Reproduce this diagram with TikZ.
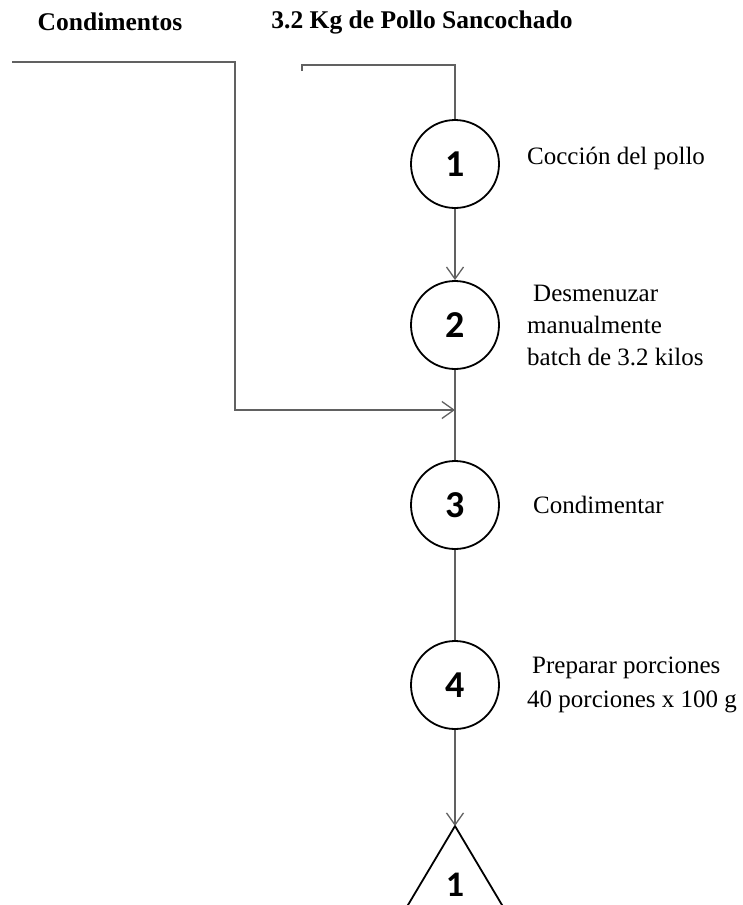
\documentclass[tikz,border=0pt]{standalone}
\usepackage{fontspec}
\setmainfont{Liberation Serif}
\newfontfamily\numfont{Carlito}
\usetikzlibrary{arrows.meta}

\begin{document}
\begin{tikzpicture}[x=1pt,y=-1pt,
  opcircle/.style={circle,draw=black,line width=1.8pt,minimum size=88pt,inner sep=0pt,
    font=\numfont\bfseries\fontsize{38}{40}\selectfont},
  flow/.style={draw=black!62,line width=1.3pt},
  barb/.style={-{Straight Barb[length=12pt,width=17pt,line width=1.3pt]}},
  lbl/.style={anchor=west,font=\fontsize{25}{32}\selectfont,align=left,inner sep=0pt},
  head/.style={font=\bfseries\fontsize{25.5}{30}\selectfont,inner sep=0pt}]
\useasboundingbox (0,0) rectangle (742,905);
\clip (0,0) rectangle (742,905);

% inputs
\node[head] (cond) at (110,22) {Condimentos};
\node[head] (pollo) at (422,22) {3.2 Kg de Pollo Sancochado};

% operations
\node[opcircle] (o1) at (455,164) {1};
\node[opcircle] (o2) at (455,325) {2};
\node[opcircle] (o3) at (455,505) {3};
\node[opcircle] (o4) at (455,685) {4};

% storage
\coordinate (tri) at (455,826);
\draw[line width=1.8pt,line join=miter] (tri) ++(-50,84) -- (tri) -- ++(50,84);
\node[font=\numfont\bfseries\fontsize{36}{40}\selectfont,inner sep=0pt] (t1) at (455,885) {1};

% operation labels
\node[lbl] (l1) at (527,158) {Cocción del pollo};
\node[lbl] (l2) at (527,325) {\hspace{6pt}Desmenuzar\\manualmente\\batch de 3.2 kilos};
\node[lbl] (l3) at (533,505) {Condimentar};
\node[lbl,font=\fontsize{25}{34}\selectfont] (l4) at (527,685) {\hspace{5pt}Preparar porciones\\40 porciones x 100 g};

% connectors
\coordinate (c0) at (12,62);
\coordinate (cj) at (455,410);
\draw[flow,barb] (c0) -- (235,62) -- (235,410) -- (cj);

\coordinate (p0) at (302,71);
\draw[flow] (p0) -- (302,65) -- (455,65) -- (o1.north);

\draw[flow,barb] (o1) -- (o2);
\draw[flow] (o2) -- (o3);
\draw[flow] (o3) -- (o4);
\draw[flow,barb] (o4) -- (tri);
\end{tikzpicture}
\end{document}
